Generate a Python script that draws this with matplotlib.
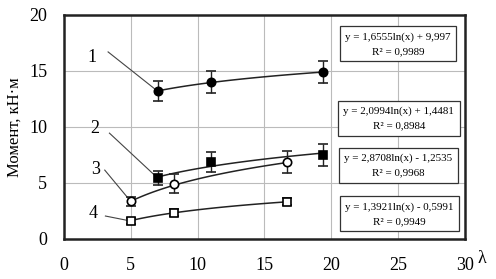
import numpy as np
import matplotlib
matplotlib.use("Agg")
import matplotlib.pyplot as plt

plt.rcParams['font.family'] = ['Liberation Serif', 'DejaVu Serif']

# Data
x1 = [7.0, 11.0, 19.4]
y1 = [13.2, 14.0, 14.9]
e1 = [0.9, 1.0, 1.0]
x2 = [7.0, 11.0, 19.4]
y2 = [5.45, 6.9, 7.5]
e2 = [0.6, 0.9, 0.95]
x3 = [5.0, 8.2, 16.7]
y3 = [3.35, 4.95, 6.85]
e3 = [0.4, 0.85, 1.0]
x4 = [5.0, 8.2, 16.7]
y4 = [1.6, 2.35, 3.33]
e4 = [0.3, 0.3, 0.3]

fits = [(1.6555, 9.997), (2.0994, 1.4481), (2.8708, -1.2535), (1.3921, -0.5991)]
eq_texts = ["y = 1,6555ln(x) + 9,997\nR² = 0,9989",
            "y = 2,0994ln(x) + 1,4481\nR² = 0,8984",
            "y = 2,8708ln(x) - 1,2535\nR² = 0,9968",
            "y = 1,3921ln(x) - 0,5991\nR² = 0,9949"]
eq_pos = [(25.0, 17.4), (25.05, 10.76), (25.0, 6.56), (25.1, 2.23)]
labels = ["1", "2", "3", "4"]
label_pos = [(2.1, 16.2), (2.3, 9.9), (2.4, 6.2), (2.2, 2.3)]
leader_start = [(3.3, 16.7), (3.4, 9.45), (3.05, 6.15), (3.1, 2.05)]

fig = plt.figure(figsize=(4.96, 2.79), dpi=100)
ax = fig.add_axes([0.129, 0.1434, 0.8085, 0.803])

series = [(x1, y1, e1, 'o', 'black'), (x2, y2, e2, 's', 'black'),
          (x3, y3, e3, 'o', 'white'), (x4, y4, e4, 's', 'white')]

for (xs, ys, es, mk, fc), (a, b) in zip(series, fits):
    xx = np.linspace(xs[0], xs[-1], 100)
    ax.plot(xx, a * np.log(xx) + b, color='#222222', lw=1.1, zorder=3)
    ax.errorbar(xs, ys, yerr=es, fmt=mk, ms=6, mfc=fc, mec='black', mew=1.2,
                ecolor='#222222', elinewidth=1.0, capsize=3.5, capthick=1.0, zorder=4)

for (lx, ly), lab, (sx, sy), xs, ys in zip(label_pos, labels, leader_start,
                                          [x1, x2, x3, x4], [y1, y2, y3, y4]):
    ax.text(lx, ly, lab, fontsize=13, ha='center', va='center')
    ax.plot([sx, xs[0]], [sy, ys[0]], color='#444444', lw=0.8, zorder=2)

for (px, py), t in zip(eq_pos, eq_texts):
    ax.text(px, py, t, fontsize=7.9, ha='center', va='center', linespacing=1.75,
            bbox=dict(boxstyle='square,pad=0.5', fc='white', ec='#333333', lw=0.9),
            zorder=5)

ax.set_xlim(0, 30)
ax.set_ylim(0, 20)
ax.set_xticks([0, 5, 10, 15, 20, 25, 30])
ax.set_yticks([0, 5, 10, 15, 20])
ax.grid(True, color='#bbbbbb', lw=0.8)
ax.set_axisbelow(True)
ax.tick_params(length=0, labelsize=13)
ax.tick_params(axis='x', pad=13)
ax.tick_params(axis='y', pad=12)
for s in ax.spines.values():
    s.set_linewidth(1.8)
    s.set_color('#222222')
ax.set_ylabel("Момент, кН·м", fontsize=12, labelpad=5)
fig.text(0.962, 0.075, "λ", fontsize=13, ha='left', va='center')

fig.savefig("out.png", dpi=100)
